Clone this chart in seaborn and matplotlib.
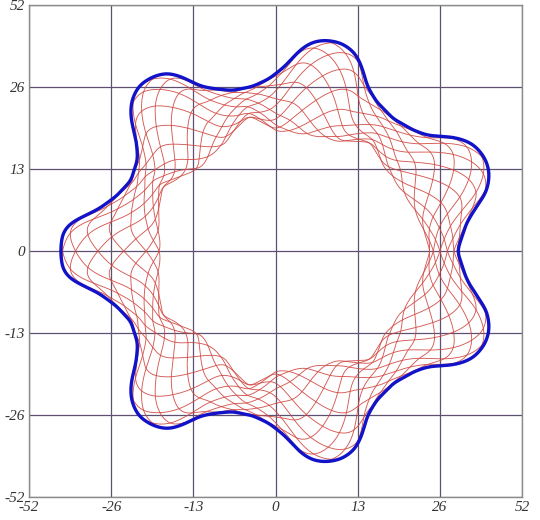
import numpy as np
import pandas as pd
import matplotlib
matplotlib.use("Agg")
import matplotlib.pyplot as plt
import seaborn as sns

# ---- values (upper half; the figure is mirror-symmetric about y=0) ----
OUTER_ANGLE = [0, 2.7, 8.5, 12.7, 15.6, 20.2, 24, 28.5, 32.2, 36.7, 41.2, 48.3, 55.9, 61.2,
               65.2, 68.3, 72.5, 76.5, 80, 83, 86.7, 92, 97.9, 105, 110, 114.7, 118, 121,
               125, 129.5, 134, 137.6, 141, 146, 154, 161, 166.7, 170, 172, 175, 180]
OUTER_R = [28.7, 29.2, 30.5, 32.6, 34.7, 36.1, 36.3, 35.6, 33.8, 30.4, 29.0, 28.0, 28.5, 29.9,
           32.4, 33.9, 34.6, 34.4, 33.7, 32.2, 29.4, 27.3, 26.3, 26.3, 27.3, 28.7, 31.2, 33.0,
           33.8, 34.0, 32.9, 31.0, 28.3, 26.2, 25.4, 26.6, 28.7, 31.0, 32.7, 33.8, 34.0]
INNER_ANGLE = [0, 11, 26.5, 38.5, 49, 59.7, 75, 90, 101, 115, 132.7, 146, 150, 169, 180]
INNER_R = [24.4, 23.3, 22.0, 21.7, 22.8, 20.0, 19.0, 19.0, 21.8, 18.8, 17.7, 19.6, 20.5, 18.7, 18.1]
WAIST_ANGLE = [0, 49, 101, 150]
N_CURVES = 12
TICK_POS = [-39, -26, -13, 0, 13, 26, 39]
TICK_LABELS = ["-52", "-26", "-13", "0", "13", "26", "52"]

N = 1440
theta_deg = np.linspace(0, 360, N, endpoint=False)


def smooth(vals, sig=6.0):
    half = int(4 * sig)
    ker = np.exp(-0.5 * (np.arange(-half, half + 1) / sig) ** 2)
    ker /= ker.sum()
    padded = np.concatenate([vals[-half:], vals, vals[:half]])
    return np.convolve(padded, ker, mode="valid")


def envelope(angles, radii):
    a = np.asarray(angles, float)
    r = np.asarray(radii, float)
    m = (a > 0) & (a < 180)
    a_full = np.concatenate([a, 360 - a[m]])
    r_full = np.concatenate([r, r[m]])
    o = np.argsort(a_full)
    return smooth(np.interp(theta_deg, a_full[o], r_full[o], period=360))


r_out = envelope(OUTER_ANGLE, OUTER_R)
r_in = envelope(INNER_ANGLE, INNER_R)
center = (r_out + r_in) / 2
width = (r_out - r_in) / 2

w = np.asarray(WAIST_ANGLE, float)
waists = np.unique(np.concatenate([w, 360 - w[1:][::-1], [360]]))
n_lobes = len(waists) - 1
beta_lin = np.interp(theta_deg, waists, np.pi * np.arange(len(waists)))
# smooth the phase progression (remove the linear trend so it is periodic)
trend = n_lobes * np.pi * theta_deg / 360.0
beta = smooth(beta_lin - trend, sig=16.0) + trend

th = np.append(theta_deg, 360.0)
cen = np.append(center, center[0])
wid = np.append(width, width[0])
bet = np.append(beta, beta[0] + n_lobes * np.pi)
t = np.deg2rad(th)

rows = []
for k in range(N_CURVES):
    phi = 2 * np.pi * (k + 0.5) / N_CURVES
    r = cen + wid * np.sin(bet + phi)
    rows.append(pd.DataFrame({"x": r * np.cos(t), "y": r * np.sin(t), "curve": k}))
red = pd.concat(rows, ignore_index=True)

ro = np.append(r_out, r_out[0])
blue = pd.DataFrame({"x": ro * np.cos(t), "y": ro * np.sin(t)})

sns.set_style("white")
plt.rcParams["font.family"] = ["Liberation Serif", "DejaVu Serif"]

fig = plt.figure(figsize=(5.4, 5.2), dpi=100)
ax = fig.add_axes([0.0537, 0.0442, 0.913, 0.946])

sns.lineplot(data=red, x="x", y="y", units="curve", estimator=None, sort=False,
             color="#d04842", lw=0.65, alpha=0.9, ax=ax, legend=False)
sns.lineplot(data=blue, x="x", y="y", estimator=None, sort=False,
             color="#1212c8", lw=2.4, ax=ax, legend=False)

ax.set_xlim(-39, 39)
ax.set_ylim(-39, 39)
ax.set_xticks(TICK_POS)
ax.set_yticks(TICK_POS)
ax.set_xticklabels(TICK_LABELS, fontstyle="italic", fontsize=11)
ax.set_yticklabels(TICK_LABELS, fontstyle="italic", fontsize=11)
ax.tick_params(length=0, pad=3, colors="#333333")
ax.set_xlabel("")
ax.set_ylabel("")
ax.grid(True, color="#5e5070", lw=0.9)
ax.set_axisbelow(True)
for s in ax.spines.values():
    s.set_color("#8a8a8a")
    s.set_linewidth(1.0)

fig.savefig("out.png", dpi=100)
